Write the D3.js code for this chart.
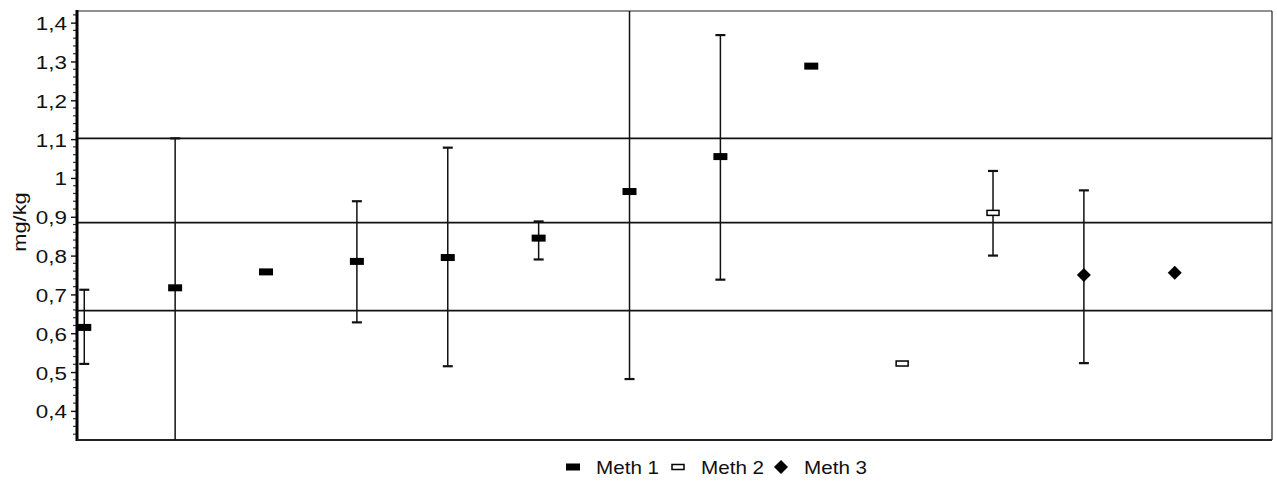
<!DOCTYPE html>
<html>
<head>
<meta charset="utf-8">
<script src="https://cdn.jsdelivr.net/npm/d3@7"></script>
<style>
  html, body { margin: 0; padding: 0; background: #fff; }
  svg { display: block; }
  text { font-family: "Liberation Sans", Arial, sans-serif; fill: #111; }
</style>
</head>
<body>
<svg id="chart" width="1277" height="486"></svg>
<script>
// ---- data ----
const categories = [1, 2, 3, 4, 5, 6, 7, 8, 9, 10, 11, 12, 13];
const methods    = ["Meth 1","Meth 1","Meth 1","Meth 1","Meth 1","Meth 1","Meth 1","Meth 1","Meth 1","Meth 2","Meth 2","Meth 3","Meth 3"];
const values     = [0.615, 0.717, 0.758, 0.785, 0.795, 0.845, 0.965, 1.055, 1.288, 0.522, 0.910, 0.750, 0.756];
const errLow     = [0.521, 0.30, null, 0.628, 0.515, 0.790, 0.482, 0.738, null, null, 0.800, 0.523, null];
const errHigh    = [0.712, 1.102, null, 0.940, 1.078, 0.888, 1.50, 1.368, null, null, 1.018, 0.968, null];
const refLines   = [1.102, 0.885, 0.658];
const yTicks     = [0.4, 0.5, 0.6, 0.7, 0.8, 0.9, 1.0, 1.1, 1.2, 1.3, 1.4];
const legendItems = ["Meth 1", "Meth 2", "Meth 3"];

// ---- layout ----
const L = 77, R = 1272, T = 11, B = 440;
const svg = d3.select("#chart");
const x = d3.scaleLinear().domain([0.92, 14.07]).range([L, R]);
const y = d3.scaleLinear().domain([0.325, 1.43]).range([B, T]);
const fmt = v => (Math.round(v * 10) / 10).toString().replace(".", ",");
const SX = 1.18; // horizontal stretch of text seen in the reference

svg.append("defs").append("clipPath").attr("id", "plotclip")
  .append("rect").attr("x", L).attr("y", T).attr("width", R - L).attr("height", B - T);

// frame: top and right thin lines
svg.append("line").attr("x1", L).attr("x2", R).attr("y1", T).attr("y2", T)
  .attr("stroke", "#222").attr("stroke-width", 1.2);
svg.append("line").attr("x1", R).attr("x2", R).attr("y1", T).attr("y2", B)
  .attr("stroke", "#222").attr("stroke-width", 1.2);

// reference lines
svg.append("g").selectAll("line").data(refLines).join("line")
  .attr("x1", L).attr("x2", R)
  .attr("y1", d => y(d)).attr("y2", d => y(d))
  .attr("stroke", "#111").attr("stroke-width", 1.8);

// y axis with major ticks
const yAxis = d3.axisLeft(y).tickValues(yTicks).tickSize(6).tickFormat(fmt);
const gy = svg.append("g").attr("transform", `translate(${L},0)`).call(yAxis);
gy.select(".domain").remove();
gy.selectAll(".tick line").attr("stroke", "#111").attr("stroke-width", 1.4);
gy.selectAll(".tick text")
  .attr("font-size", 19).attr("font-family", "Liberation Sans, Arial, sans-serif")
  .attr("fill", "#111")
  .attr("x", null).attr("dy", null)
  .attr("text-anchor", "end")
  .attr("transform", "translate(-10,7) scale(" + SX + ",1)");

// minor ticks every 0.02
const minor = d3.range(0.34, 1.43, 0.02).filter(v => yTicks.every(t => Math.abs(t - v) > 0.005));
svg.append("g").selectAll("line").data(minor).join("line")
  .attr("x1", L - 4).attr("x2", L)
  .attr("y1", d => y(d)).attr("y2", d => y(d))
  .attr("stroke", "#333").attr("stroke-width", 1.2);

// axis lines
svg.append("line").attr("x1", L).attr("x2", L).attr("y1", T - 1).attr("y2", B + 1)
  .attr("stroke", "#000").attr("stroke-width", 3);
svg.append("line").attr("x1", L).attr("x2", R).attr("y1", B).attr("y2", B)
  .attr("stroke", "#222").attr("stroke-width", 2);

// y label
svg.append("text")
  .attr("transform", `translate(26,222) rotate(-90) scale(${SX},1)`)
  .attr("text-anchor", "middle")
  .attr("font-size", 18.5)
  .text("mg/kg");

// error bars
const plot = svg.append("g").attr("clip-path", "url(#plotclip)");
const idx = categories.map((c, i) => i).filter(i => errLow[i] !== null);
plot.selectAll("line.err").data(idx).join("line").attr("class", "err")
  .attr("x1", i => x(categories[i])).attr("x2", i => x(categories[i]))
  .attr("y1", i => y(errLow[i])).attr("y2", i => y(errHigh[i]))
  .attr("stroke", "#111").attr("stroke-width", 1.5);
const caps = [];
idx.forEach(i => { caps.push([i, errLow[i]]); caps.push([i, errHigh[i]]); });
plot.selectAll("line.cap").data(caps).join("line").attr("class", "cap")
  .attr("x1", d => x(categories[d[0]]) - 5).attr("x2", d => x(categories[d[0]]) + 5)
  .attr("y1", d => y(d[1])).attr("y2", d => y(d[1]))
  .attr("stroke", "#111").attr("stroke-width", 2.2);

// markers
function drawMarker(g, m, cx, cy) {
  if (m === "Meth 1") {
    g.append("rect").attr("x", cx - 7).attr("y", cy - 3.5).attr("width", 14).attr("height", 7)
      .attr("fill", "#000");
  } else if (m === "Meth 2") {
    g.append("rect").attr("x", cx - 6).attr("y", cy - 2.5).attr("width", 12).attr("height", 5)
      .attr("fill", "#fff").attr("stroke", "#000").attr("stroke-width", 1.5);
  } else {
    g.append("path").attr("d", `M${cx},${cy - 7}L${cx + 7},${cy}L${cx},${cy + 7}L${cx - 7},${cy}Z`)
      .attr("fill", "#000");
  }
}
const mg = svg.append("g");
categories.forEach((c, i) => drawMarker(mg, methods[i], x(c), y(values[i])));

// legend
const legendX = [573, 678, 781];
const lg = svg.append("g");
legendItems.forEach((name, k) => {
  drawMarker(lg, name, legendX[k], 467);
  lg.append("text")
    .attr("transform", `translate(${legendX[k] + 23},474) scale(${SX},1)`)
    .attr("font-size", 17.5)
    .text(name);
});
</script>
</body>
</html>
